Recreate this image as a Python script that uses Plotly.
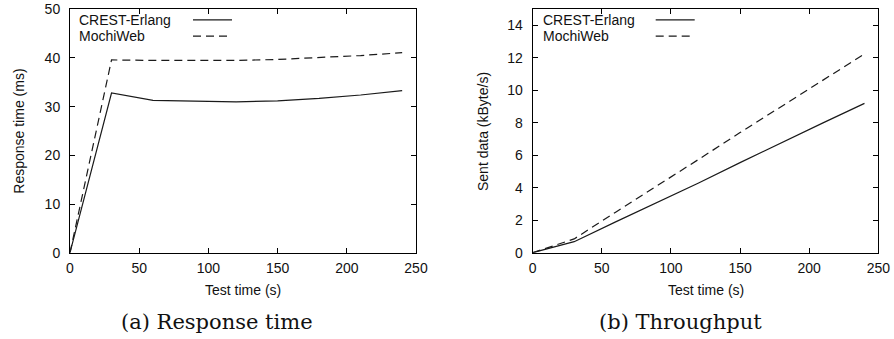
import plotly.graph_objects as go

W, H = 894, 339

# ---- data ----
test_time = [0, 30, 60, 90, 120, 150, 180, 210, 240]
resp_crest = [0, 32.8, 31.3, 31.1, 31.0, 31.2, 31.7, 32.4, 33.3]
resp_mochi = [0, 39.6, 39.5, 39.5, 39.5, 39.7, 40.1, 40.5, 41.1]
sent_crest = [0, 0.68, 1.9, 3.1, 4.3, 5.55, 6.8, 8.0, 9.2]
sent_mochi = [0, 0.85, 2.5, 4.1, 5.75, 7.4, 9.0, 10.6, 12.25]
series_names = ["CREST-Erlang", "MochiWeb"]
x_ticks = [0, 50, 100, 150, 200, 250]
resp_ticks = [0, 10, 20, 30, 40, 50]
sent_ticks = [0, 2, 4, 6, 8, 10, 12, 14]
x_title = "Test time (s)"
y_titles = ["Response time (ms)", "Sent data (kByte/s)"]
captions = ["(a) Response time", "(b) Throughput"]


def px(x):
    return x / W


def py(y):
    return 1 - y / H


FONT = "Liberation Sans, Arial, sans-serif"
SERIF = "DejaVu Serif, Liberation Serif, serif"
TXT = "#111"
LINE_COLOR = "#1a1a1a"
DASH = "8px,5px"

fig = go.Figure()
for xa, ya, ys in [("x", "y", (resp_crest, resp_mochi)), ("x2", "y2", (sent_crest, sent_mochi))]:
    fig.add_trace(go.Scatter(x=test_time, y=ys[0], mode="lines", name=series_names[0],
                             line=dict(color=LINE_COLOR, width=1.2), xaxis=xa, yaxis=ya, showlegend=False))
    fig.add_trace(go.Scatter(x=test_time, y=ys[1], mode="lines", name=series_names[1],
                             line=dict(color=LINE_COLOR, width=1.2, dash=DASH), xaxis=xa, yaxis=ya,
                             showlegend=False))

ax_common = dict(showgrid=False, zeroline=False, showline=True, linecolor="black", linewidth=1,
                 mirror="allticks", ticks="inside", ticklen=5, tickcolor="black", tickwidth=1,
                 automargin=False, tickfont=dict(family=FONT, size=14, color=TXT))

ydom = [py(252.7), py(9.3)]
left_dom = [px(70), px(416)]
right_dom = [px(532.7), px(878.3)]
fig.update_layout(
    width=W, height=H, margin=dict(l=0, r=0, t=0, b=0),
    paper_bgcolor="white", plot_bgcolor="white",
    xaxis=dict(domain=left_dom, range=[0, 250], tickvals=x_ticks, anchor="y", ticklabelstandoff=2, **ax_common),
    yaxis=dict(domain=ydom, range=[0, 50], tickvals=resp_ticks, anchor="x", ticklabelstandoff=6, **ax_common),
    xaxis2=dict(domain=right_dom, range=[0, 250], tickvals=x_ticks, anchor="y2", ticklabelstandoff=2, **ax_common),
    yaxis2=dict(domain=ydom, range=[0, 15], tickvals=sent_ticks, anchor="x2", ticklabelstandoff=6, **ax_common),
)

shapes = []
annotations = []

# axis titles
for cx, ycx, yt in [(242.5, 19, y_titles[0]), (705.7, 482.3, y_titles[1])]:
    annotations.append(dict(x=px(cx), y=py(290), xref="paper", yref="paper", text=x_title,
                            showarrow=False, xanchor="center", yanchor="middle",
                            font=dict(family=FONT, size=14, color=TXT)))
    annotations.append(dict(x=px(ycx), y=py(131.7), xref="paper", yref="paper", text=yt, textangle=-90,
                            showarrow=False, xanchor="center", yanchor="middle",
                            font=dict(family=FONT, size=14, color=TXT)))

# gnuplot-style keys (text left, line sample right)
keys = [(78, 193, 232), (541.7, 655.7, 694.7)]
rows = [19.8, 36.2]
for (tx, lx0, lx1) in keys:
    for i, name in enumerate(series_names):
        annotations.append(dict(x=px(tx), y=py(rows[i]), xref="paper", yref="paper", text=name,
                                showarrow=False, xanchor="left", yanchor="middle", borderpad=0,
                                font=dict(family=FONT, size=14, color=TXT)))
        shapes.append(dict(type="line", xref="paper", yref="paper", x0=px(lx0), x1=px(lx1),
                           y0=py(rows[i]), y1=py(rows[i]),
                           line=dict(color=LINE_COLOR, width=1.2, dash=None if i == 0 else DASH)))

for cx, text in zip([217, 680], captions):
    annotations.append(dict(x=px(cx), y=py(322), xref="paper", yref="paper", text=text,
                            showarrow=False, xanchor="center", yanchor="middle",
                            font=dict(family=SERIF, size=21, color=TXT)))

fig.update_layout(shapes=shapes, annotations=annotations)
fig.write_html("out.html", config={"displayModeBar": False},
               post_script="document.body.style.margin='0';document.body.style.overflow='hidden';")
